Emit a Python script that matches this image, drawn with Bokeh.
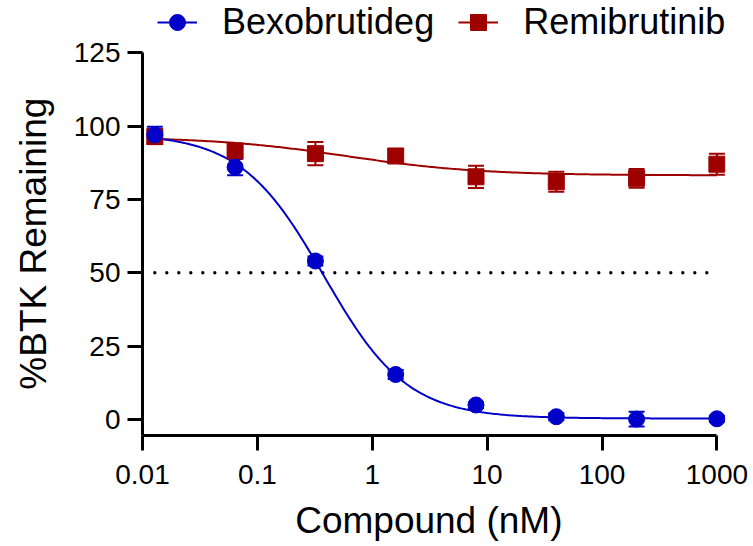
import numpy as np
from bokeh.plotting import figure
from bokeh.models import (Range1d, FixedTicker, CustomJSTickFormatter, Legend, LegendItem,
                          ColumnDataSource, Whisker, TeeHead)
from bokeh.embed import file_html
from bokeh.resources import INLINE

# ---- data ----
conc_nM = [0.0128, 0.064, 0.32, 1.6, 8, 40, 200, 1000]
bexo_mean = [97.0, 86.0, 54.0, 15.3, 4.9, 0.9, 0.1, 0.2]
bexo_err = [2.8, 2.8, 1.5, 1.5, 1.0, 1.2, 2.5, 1.0]
remi_mean = [96.4, 91.5, 90.6, 89.8, 82.7, 81.0, 82.2, 87.0]
remi_err = [2.5, 2.0, 4.0, 2.2, 3.8, 3.4, 3.2, 3.6]

# fitted 4-parameter logistic curves (top, bottom, IC50 nM, Hill slope)
bexo_fit = dict(top=97.5, bottom=0.3, ic50=0.38, hill=1.2)
remi_fit = dict(top=96.3, bottom=83.2, ic50=0.6, hill=0.75)

x_tick_values = [0.01, 0.1, 1, 10, 100, 1000]
x_tick_labels = ["0.01", "0.1", "1", "10", "100", "1000"]
y_tick_values = [0, 25, 50, 75, 100, 125]
threshold = 50

series_names = ["Bexobrutideg", "Remibrutinib"]
x_title = "Compound (nM)"
y_title = "%BTK Remaining"
BLUE = "#0000C8"
RED = "#9E0000"
FONT = "Liberation Sans"
NBSP = "\u00a0"


def four_pl(x, top, bottom, ic50, hill):
    return bottom + (top - bottom) / (1.0 + (x / ic50) ** hill)


xs_fit = np.logspace(np.log10(min(conc_nM)), np.log10(max(conc_nM)), 300)

PX_PER_DECADE = 114.9
PX_PER_UNIT = 2.933
X_END_EXP = 3.075
FRAME_W = round((X_END_EXP + 2) * PX_PER_DECADE)
FRAME_H = 435
p = figure(width=753, height=546, x_axis_type="log",
           x_range=Range1d(0.01, 10 ** X_END_EXP),
           y_range=Range1d(-5.5, -5.5 + FRAME_H / PX_PER_UNIT),
           output_backend="svg", toolbar_location=None,
           frame_width=FRAME_W, frame_height=FRAME_H,
           min_border_left=142, min_border_right=753 - 142 - FRAME_W,
           min_border_top=0, min_border_bottom=546 - FRAME_H)
p.outline_line_color = None
p.xgrid.visible = False
p.ygrid.visible = False
p.background_fill_color = "white"

# axes
for ax in (p.xaxis[0], p.yaxis[0]):
    ax.axis_line_width = 3
    ax.axis_line_color = "black"
    ax.major_tick_line_width = 3
    ax.major_tick_line_color = "black"
    ax.major_tick_out = 15
    ax.major_tick_in = 0
    ax.minor_tick_line_color = None
    ax.major_label_text_font = FONT
    ax.major_label_text_font_size = "28px"
    ax.major_label_text_color = "black"
    ax.axis_label_text_font = FONT
    ax.axis_label_text_font_size = "37px"
    ax.axis_label_text_font_style = "normal"
    ax.axis_label_text_color = "black"

p.xaxis[0].ticker = FixedTicker(ticks=x_tick_values, minor_ticks=[])
p.xaxis[0].formatter = CustomJSTickFormatter(
    args=dict(vals=x_tick_values, labels=x_tick_labels),
    code="""
    let best = 0, d = Infinity;
    for (let i = 0; i < vals.length; i++) {
        const dd = Math.abs(Math.log10(vals[i]) - Math.log10(tick));
        if (dd < d) { d = dd; best = i; }
    }
    return labels[best];
    """)
p.xaxis[0].bounds = (x_tick_values[0], x_tick_values[-1])
# trailing no-break space re-centres the title on the drawn axis (0.01..1000)
p.xaxis[0].axis_label = x_title + NBSP
p.xaxis[0].major_label_standoff = 14
p.xaxis[0].axis_label_standoff = 13

p.yaxis[0].ticker = FixedTicker(ticks=y_tick_values, minor_ticks=[])
p.yaxis[0].bounds = (-5.5, y_tick_values[-1])
# trailing no-break spaces re-centre the title on the drawn axis (0..125)
p.yaxis[0].axis_label = y_title + NBSP * 5
p.yaxis[0].major_label_standoff = 7
p.yaxis[0].axis_label_standoff = 17

# 50% reference line
p.line([conc_nM[0], conc_nM[-1]], [threshold, threshold], line_color="black",
       line_width=3.4, line_dash="0 12", line_cap="round")

# error bars
src_remi = ColumnDataSource(dict(x=conc_nM, y=remi_mean,
                                 lo=[m - e for m, e in zip(remi_mean, remi_err)],
                                 hi=[m + e for m, e in zip(remi_mean, remi_err)]))
src_bexo = ColumnDataSource(dict(x=conc_nM, y=bexo_mean,
                                 lo=[m - e for m, e in zip(bexo_mean, bexo_err)],
                                 hi=[m + e for m, e in zip(bexo_mean, bexo_err)]))
for src, col in ((src_remi, RED), (src_bexo, BLUE)):
    w = Whisker(source=src, base="x", lower="lo", upper="hi", dimension="height",
                line_color=col, line_width=2,
                upper_head=TeeHead(size=16, line_color=col, line_width=2),
                lower_head=TeeHead(size=16, line_color=col, line_width=2))
    p.add_layout(w)

# fitted curves
remi_line = p.line(xs_fit, four_pl(xs_fit, **remi_fit), line_color=RED, line_width=2)
bexo_line = p.line(xs_fit, four_pl(xs_fit, **bexo_fit), line_color=BLUE, line_width=2)

# points
remi_pts = p.scatter("x", "y", source=src_remi, marker="square", size=16,
                     fill_color=RED, line_color=RED, line_width=1)
bexo_pts = p.scatter("x", "y", source=src_bexo, marker="circle", size=16,
                     fill_color=BLUE, line_color=BLUE, line_width=1)

legend = Legend(items=[LegendItem(label=series_names[0], renderers=[bexo_line, bexo_pts]),
                       LegendItem(label=series_names[1], renderers=[remi_line, remi_pts])],
                orientation="horizontal", location=(15, FRAME_H - 43),
                glyph_width=40, glyph_height=40, label_standoff=25, spacing=24,
                padding=0, margin=0, border_line_color=None, background_fill_alpha=0,
                label_text_font=FONT, label_text_font_size="36px", label_text_color="black")
p.add_layout(legend, "center")

open("out.html", "w").write(file_html(p, INLINE))
